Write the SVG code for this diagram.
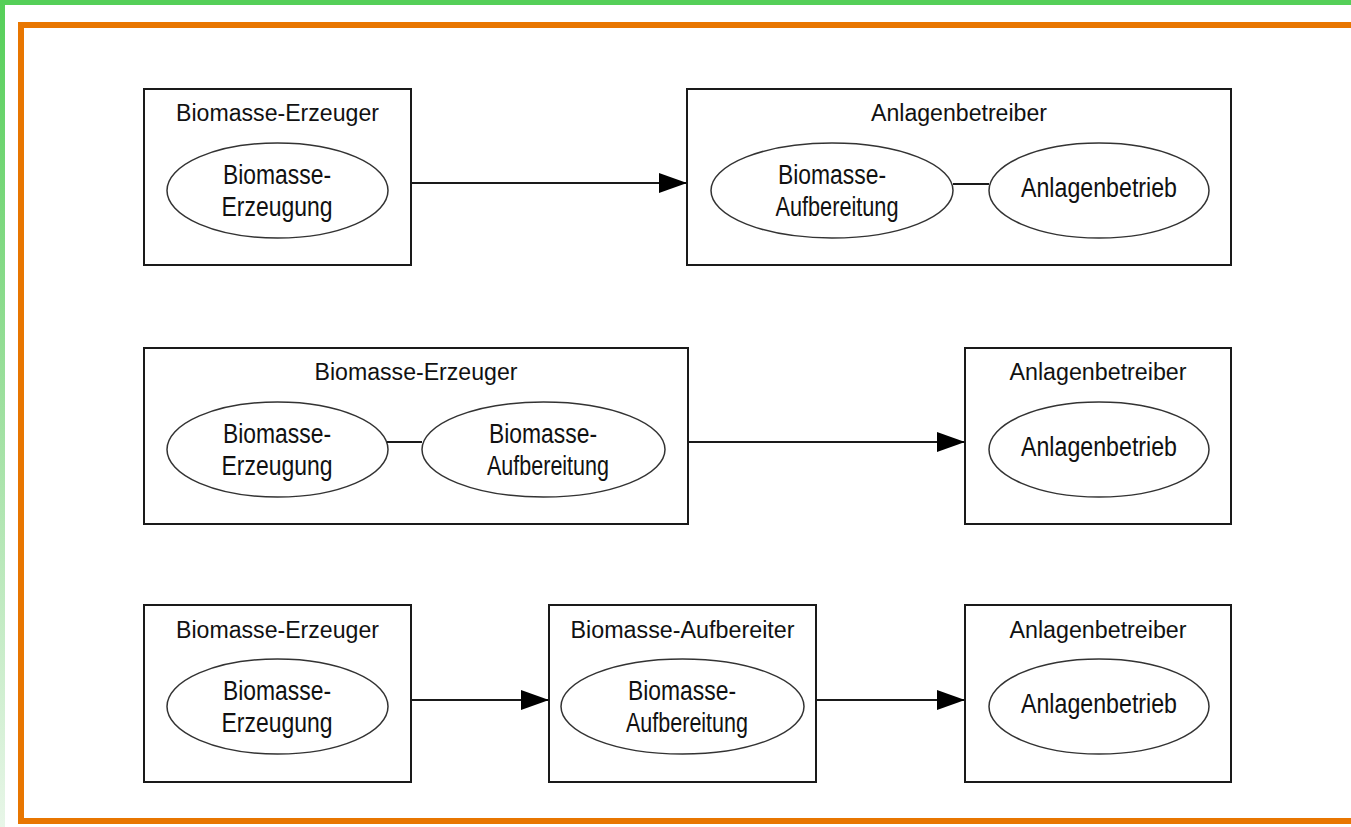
<svg xmlns="http://www.w3.org/2000/svg" width="1351" height="827" viewBox="0 0 1351 827">
<defs>
<linearGradient id="gl" x1="0" y1="0" x2="0" y2="1">
<stop offset="0" stop-color="#55cf58"/>
<stop offset="0.5" stop-color="#9fe0a0"/>
<stop offset="1" stop-color="#e8f6e8"/>
</linearGradient>
<marker id="arr" markerUnits="userSpaceOnUse" markerWidth="30" markerHeight="22" refX="28" refY="10" orient="auto">
<path d="M0,0 L28,10 L0,20 Z" fill="#000"/>
</marker>
<style>
.box{fill:#fff;stroke:#1a1a1a;stroke-width:2}
.ell{fill:#fff;stroke:#333;stroke-width:1.5}
.t{font-family:"Liberation Sans",Arial,sans-serif;font-size:23px;fill:#111;text-anchor:middle}
.e{font-family:"Liberation Sans",Arial,sans-serif;font-size:27px;fill:#111;text-anchor:middle}
.c{stroke:#1a1a1a;stroke-width:2;fill:none}
</style>
</defs>
<rect x="0" y="0" width="1351" height="827" fill="#fff"/>
<rect x="0" y="0" width="1351" height="5" fill="#55cf58"/>
<rect x="0" y="0" width="5" height="827" fill="url(#gl)"/>
<rect x="21" y="25" width="1360" height="796" fill="none" stroke="#e87600" stroke-width="6"/>

<g id="r1-erzeuger">
<rect class="box" x="144" y="89" width="267" height="176"/>
<text class="t" x="277.5" y="121" textLength="203" lengthAdjust="spacingAndGlyphs">Biomasse-Erzeuger</text>
<ellipse class="ell" cx="277.5" cy="190.5" rx="110.5" ry="47.5"/>
<text class="e" x="277" y="184" textLength="108" lengthAdjust="spacingAndGlyphs">Biomasse-</text>
<text class="e" x="277" y="216" textLength="111" lengthAdjust="spacingAndGlyphs">Erzeugung</text>
</g>

<g id="r1-betreiber">
<rect class="box" x="687" y="89" width="544" height="176"/>
<text class="t" x="959" y="121" textLength="176" lengthAdjust="spacingAndGlyphs">Anlagenbetreiber</text>
<ellipse class="ell" cx="832" cy="190.5" rx="121" ry="47.5"/>
<text class="e" x="832" y="184" textLength="108" lengthAdjust="spacingAndGlyphs">Biomasse-</text>
<text class="e" x="837" y="216" textLength="123" lengthAdjust="spacingAndGlyphs">Aufbereitung</text>
<ellipse class="ell" cx="1099" cy="190.5" rx="110" ry="47.5"/>
<text class="e" x="1099" y="197" textLength="156" lengthAdjust="spacingAndGlyphs">Anlagenbetrieb</text>
</g>

<g id="r2-erzeuger">
<rect class="box" x="144" y="348" width="544" height="176"/>
<text class="t" x="416" y="380" textLength="203" lengthAdjust="spacingAndGlyphs">Biomasse-Erzeuger</text>
<ellipse class="ell" cx="277.5" cy="449.5" rx="110.5" ry="47.5"/>
<text class="e" x="277" y="443" textLength="108" lengthAdjust="spacingAndGlyphs">Biomasse-</text>
<text class="e" x="277" y="475" textLength="111" lengthAdjust="spacingAndGlyphs">Erzeugung</text>
<ellipse class="ell" cx="543.5" cy="449.5" rx="121.5" ry="47.5"/>
<text class="e" x="543" y="443" textLength="108" lengthAdjust="spacingAndGlyphs">Biomasse-</text>
<text class="e" x="548" y="475" textLength="122" lengthAdjust="spacingAndGlyphs">Aufbereitung</text>
</g>

<g id="r2-betreiber">
<rect class="box" x="965" y="348" width="266" height="176"/>
<text class="t" x="1098" y="380" textLength="177" lengthAdjust="spacingAndGlyphs">Anlagenbetreiber</text>
<ellipse class="ell" cx="1099" cy="449.5" rx="110" ry="47.5"/>
<text class="e" x="1099" y="456" textLength="156" lengthAdjust="spacingAndGlyphs">Anlagenbetrieb</text>
</g>

<g id="r3-erzeuger">
<rect class="box" x="144" y="605" width="267" height="177"/>
<text class="t" x="277.5" y="638" textLength="203" lengthAdjust="spacingAndGlyphs">Biomasse-Erzeuger</text>
<ellipse class="ell" cx="277.5" cy="706.5" rx="110.5" ry="47.5"/>
<text class="e" x="277" y="700" textLength="108" lengthAdjust="spacingAndGlyphs">Biomasse-</text>
<text class="e" x="277" y="732" textLength="111" lengthAdjust="spacingAndGlyphs">Erzeugung</text>
</g>

<g id="r3-aufbereiter">
<rect class="box" x="549" y="605" width="267" height="177"/>
<text class="t" x="682.5" y="638" textLength="224" lengthAdjust="spacingAndGlyphs">Biomasse-Aufbereiter</text>
<ellipse class="ell" cx="682.5" cy="706.5" rx="121.5" ry="47.5"/>
<text class="e" x="682" y="700" textLength="108" lengthAdjust="spacingAndGlyphs">Biomasse-</text>
<text class="e" x="687" y="732" textLength="122" lengthAdjust="spacingAndGlyphs">Aufbereitung</text>
</g>

<g id="r3-betreiber">
<rect class="box" x="965" y="605" width="266" height="177"/>
<text class="t" x="1098" y="638" textLength="177" lengthAdjust="spacingAndGlyphs">Anlagenbetreiber</text>
<ellipse class="ell" cx="1099" cy="706.5" rx="110" ry="47.5"/>
<text class="e" x="1099" y="713" textLength="156" lengthAdjust="spacingAndGlyphs">Anlagenbetrieb</text>
</g>

<g id="connectors">
<line class="c" x1="411" y1="183" x2="687" y2="183" marker-end="url(#arr)"/>
<line class="c" x1="953" y1="184" x2="989" y2="184"/>
<line class="c" x1="387" y1="442" x2="422" y2="442"/>
<line class="c" x1="688" y1="442" x2="965" y2="442" marker-end="url(#arr)"/>
<line class="c" x1="411" y1="700" x2="549" y2="700" marker-end="url(#arr)"/>
<line class="c" x1="816" y1="700" x2="965" y2="700" marker-end="url(#arr)"/>
</g>
</svg>
